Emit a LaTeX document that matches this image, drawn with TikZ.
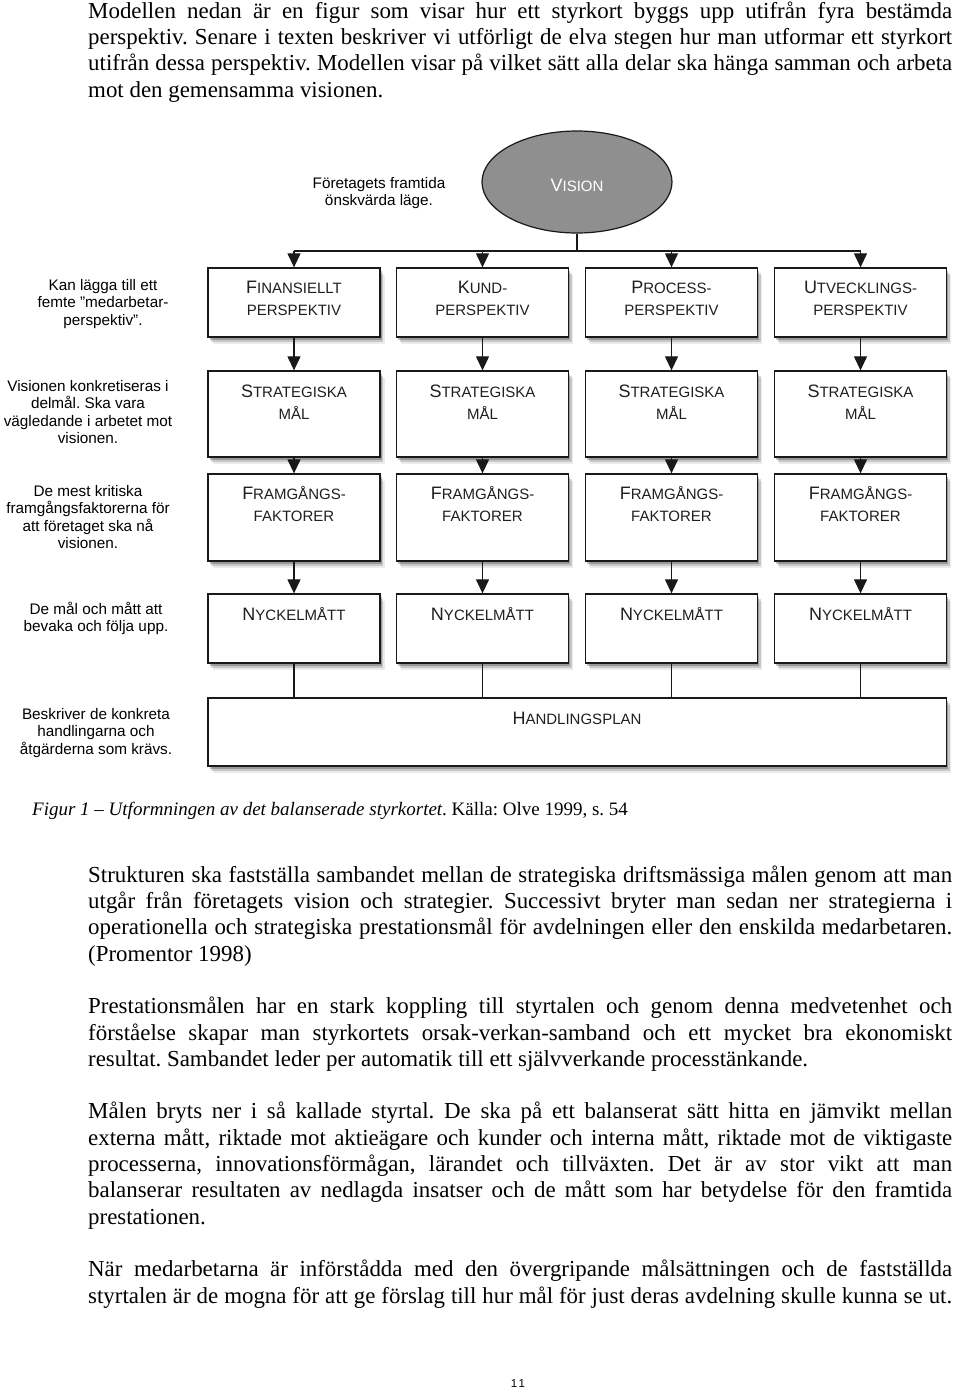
\documentclass[tikz,border=0pt]{standalone}
\usepackage{fontspec}
\setmainfont{Liberation Serif}
\newfontfamily\arial{Liberation Sans}
\usetikzlibrary{shapes.geometric,arrows.meta,shadows}
\newcommand\capt[2]{{\fontsize{18}{20}\selectfont #1}{\fontsize{15}{20}\selectfont #2}}
\newcommand\smc[1]{{\fontsize{15}{20}\selectfont #1}}
\frenchspacing
\begin{document}
\frenchspacing
\begin{tikzpicture}[x=1pt,y=-1pt,
  body/.style={anchor=north west, inner sep=0pt, text width=864pt, align=justify, font=\fontsize{22.9}{26.3}\selectfont\frenchspacing},
  note/.style={anchor=base, inner sep=0pt, font=\arial\fontsize{15.3}{17.5}\selectfont},
  btxt/.style={anchor=base, inner sep=0pt, font=\arial, text=black!88},
  shadowed/.style={drop shadow={shadow xshift=1.5pt, shadow yshift=-2.5pt, opacity=.24, fill=black},
                   drop shadow={shadow xshift=3pt, shadow yshift=-4.5pt, opacity=.15, fill=black},
                   drop shadow={shadow xshift=4.5pt, shadow yshift=-6.5pt, opacity=.08, fill=black}},
  box/.style={rectangle, draw=black!90, line width=1.3pt, fill=white, inner sep=0pt, shadowed},
  pbox/.style={box, minimum width=172pt, minimum height=69pt},
  sbox/.style={box, minimum width=172pt, minimum height=86pt},
  fbox/.style={box, minimum width=172pt, minimum height=87pt},
  nbox/.style={box, minimum width=172pt, minimum height=69pt},
  arr/.style={line width=1.2pt, draw=black!90, -{Triangle[width=13pt,length=14pt]}},
  conn/.style={line width=1.2pt, draw=black!90}]
\useasboundingbox[fill=white] (0,0) rectangle (960,1392);

% ---------- body text ----------
\node[body] (par1) at (88,-0.41) {\strut Modellen nedan är en figur som visar hur ett styrkort byggs upp utifrån fyra bestämda\linebreak perspektiv. Senare i texten beskriver vi utförligt de elva stegen hur man utformar ett styrkort\linebreak utifrån dessa perspektiv. Modellen visar på vilket sätt alla delar ska hänga samman och arbeta\linebreak mot den gemensamma visionen.};

% ---------- vision ----------
\node[ellipse, draw=black!90, line width=1.2pt, fill=black!44, minimum width=190pt, minimum height=102pt, inner sep=0pt] (vis) at (577,182) {};
\node[btxt, text=white] (vist) at (577,191) {\capt{V}{ISION}};
\node[note] (fa) at (379,188) {Företagets framtida};
\node[note] (fb) at (379,205.5) {önskvärda läge.};

% ---------- boxes ----------
\node[pbox] (p1) at (294,302.5) {};
\node[pbox] (p2) at (482.5,302.5) {};
\node[pbox] (p3) at (671.5,302.5) {};
\node[pbox] (p4) at (860.5,302.5) {};
\node[sbox] (s1) at (294,414) {};
\node[sbox] (s2) at (482.5,414) {};
\node[sbox] (s3) at (671.5,414) {};
\node[sbox] (s4) at (860.5,414) {};
\node[fbox] (f1) at (294,517.5) {};
\node[fbox] (f2) at (482.5,517.5) {};
\node[fbox] (f3) at (671.5,517.5) {};
\node[fbox] (f4) at (860.5,517.5) {};
\node[nbox] (k1) at (294,628.5) {};
\node[nbox] (k2) at (482.5,628.5) {};
\node[nbox] (k3) at (671.5,628.5) {};
\node[nbox] (k4) at (860.5,628.5) {};
\node[box, minimum width=738.5pt, minimum height=68pt] (hp) at (577.25,732) {};

% ---------- box texts ----------
\node[btxt] (p1a) at (294,293) {\capt{F}{INANSIELLT}};
\node[btxt] (p1b) at (294,315) {\smc{PERSPEKTIV}};
\node[btxt] (p2a) at (482.5,293) {\capt{K}{UND-}};
\node[btxt] (p2b) at (482.5,315) {\smc{PERSPEKTIV}};
\node[btxt] (p3a) at (671.5,293) {\capt{P}{ROCESS-}};
\node[btxt] (p3b) at (671.5,315) {\smc{PERSPEKTIV}};
\node[btxt] (p4a) at (860.5,293) {\capt{U}{TVECKLINGS-}};
\node[btxt] (p4b) at (860.5,315) {\smc{PERSPEKTIV}};

\node[btxt] (s1a) at (294,397) {\capt{S}{TRATEGISKA}};
\node[btxt] (s1b) at (294,419) {\smc{MÅL}};
\node[btxt] (s2a) at (482.5,397) {\capt{S}{TRATEGISKA}};
\node[btxt] (s2b) at (482.5,419) {\smc{MÅL}};
\node[btxt] (s3a) at (671.5,397) {\capt{S}{TRATEGISKA}};
\node[btxt] (s3b) at (671.5,419) {\smc{MÅL}};
\node[btxt] (s4a) at (860.5,397) {\capt{S}{TRATEGISKA}};
\node[btxt] (s4b) at (860.5,419) {\smc{MÅL}};

\node[btxt] (f1a) at (294,499) {\capt{F}{RAMGÅNGS-}};
\node[btxt] (f1b) at (294,521) {\smc{FAKTORER}};
\node[btxt] (f2a) at (482.5,499) {\capt{F}{RAMGÅNGS-}};
\node[btxt] (f2b) at (482.5,521) {\smc{FAKTORER}};
\node[btxt] (f3a) at (671.5,499) {\capt{F}{RAMGÅNGS-}};
\node[btxt] (f3b) at (671.5,521) {\smc{FAKTORER}};
\node[btxt] (f4a) at (860.5,499) {\capt{F}{RAMGÅNGS-}};
\node[btxt] (f4b) at (860.5,521) {\smc{FAKTORER}};

\node[btxt] (k1a) at (294,620) {\capt{N}{YCKELMÅTT}};
\node[btxt] (k2a) at (482.5,620) {\capt{N}{YCKELMÅTT}};
\node[btxt] (k3a) at (671.5,620) {\capt{N}{YCKELMÅTT}};
\node[btxt] (k4a) at (860.5,620) {\capt{N}{YCKELMÅTT}};

\node[btxt] (hpa) at (577,724) {\capt{H}{ANDLINGSPLAN}};

% ---------- left notes ----------
\node[note] (ka) at (103,290) {Kan lägga till ett};
\node[note] (kb) at (103,307.5) {femte ”medarbetar-};
\node[note] (kc) at (103,325) {perspektiv”.};

\node[note] (va) at (88,391) {Visionen konkretiseras i};
\node[note] (vb) at (88,408.5) {delmål. Ska vara};
\node[note] (vc) at (88,426) {vägledande i arbetet mot};
\node[note] (vd) at (88,443.5) {visionen.};

\node[note] (ma) at (88,496) {De mest kritiska};
\node[note] (mb) at (88,513.5) {framgångsfaktorerna för};
\node[note] (mc) at (88,531) {att företaget ska nå};
\node[note] (md) at (88,548.5) {visionen.};

\node[note] (da) at (96,614) {De mål och mått att};
\node[note] (db) at (96,631.5) {bevaka och följa upp.};

\node[note] (ba) at (96,719) {Beskriver de konkreta};
\node[note] (bb) at (96,736.5) {handlingarna och};
\node[note] (bc) at (96,754) {åtgärderna som krävs.};

% ---------- connectors ----------
\coordinate (hub) at (577,251);
\draw[conn] (vis.south) -- (hub);
\draw[conn] (p1.north |- hub) -- (p4.north |- hub);
\foreach \i in {1,2,3,4}{
  \draw[arr] (p\i.north |- hub) -- (p\i.north);
  \draw[arr] (p\i.south) -- (s\i.north);
  \draw[arr] (s\i.south) -- (f\i.north);
  \draw[arr] (f\i.south) -- (k\i.north);
  \draw[conn] (k\i.south) -- (k\i.south |- hp.north);
}

% ---------- caption and text ----------
\node[anchor=base west, inner sep=0pt, font=\fontsize{19}{26.3}\selectfont] (cap) at (32,815) {\textit{Figur 1 – Utformningen av det balanserade styrkortet}. Källa: Olve 1999, s. 54};

\node[body] (par2) at (88,863.59) {\strut Strukturen ska fastställa sambandet mellan de strategiska driftsmässiga målen genom att man\linebreak utgår från företagets vision och strategier. Successivt bryter man sedan ner strategierna i\linebreak operationella och strategiska prestationsmål för avdelningen eller den enskilda medarbetaren.\linebreak (Promentor 1998)};

\node[body] (par3) at (88,995.09) {\strut Prestationsmålen har en stark koppling till styrtalen och genom denna medvetenhet och\linebreak förståelse skapar man styrkortets orsak-verkan-samband och ett mycket bra ekonomiskt\linebreak resultat. Sambandet leder per automatik till ett självverkande processtänkande.};

\node[body] (par4) at (88,1100.29) {\strut Målen bryts ner i så kallade styrtal. De ska på ett balanserat sätt hitta en jämvikt mellan\linebreak externa mått, riktade mot aktieägare och kunder och interna mått, riktade mot de viktigaste\linebreak processerna, innovationsförmågan, lärandet och tillväxten. Det är av stor vikt att man\linebreak balanserar resultaten av nedlagda insatser och de mått som har betydelse för den framtida\linebreak prestationen.};

\node[body] (par5) at (88,1258.09) {\strut När medarbetarna är införstådda med den övergripande målsättningen och de fastställda\linebreak \makebox[864pt][s]{styrtalen är de mogna för att ge förslag till hur mål för just deras avdelning skulle kunna se ut.}};

\node[anchor=base, inner sep=0pt, font=\arial\fontsize{11.5}{12}\selectfont] (pg) at (518,1387) {1\hspace{1.5pt}1};
\end{tikzpicture}
\end{document}
